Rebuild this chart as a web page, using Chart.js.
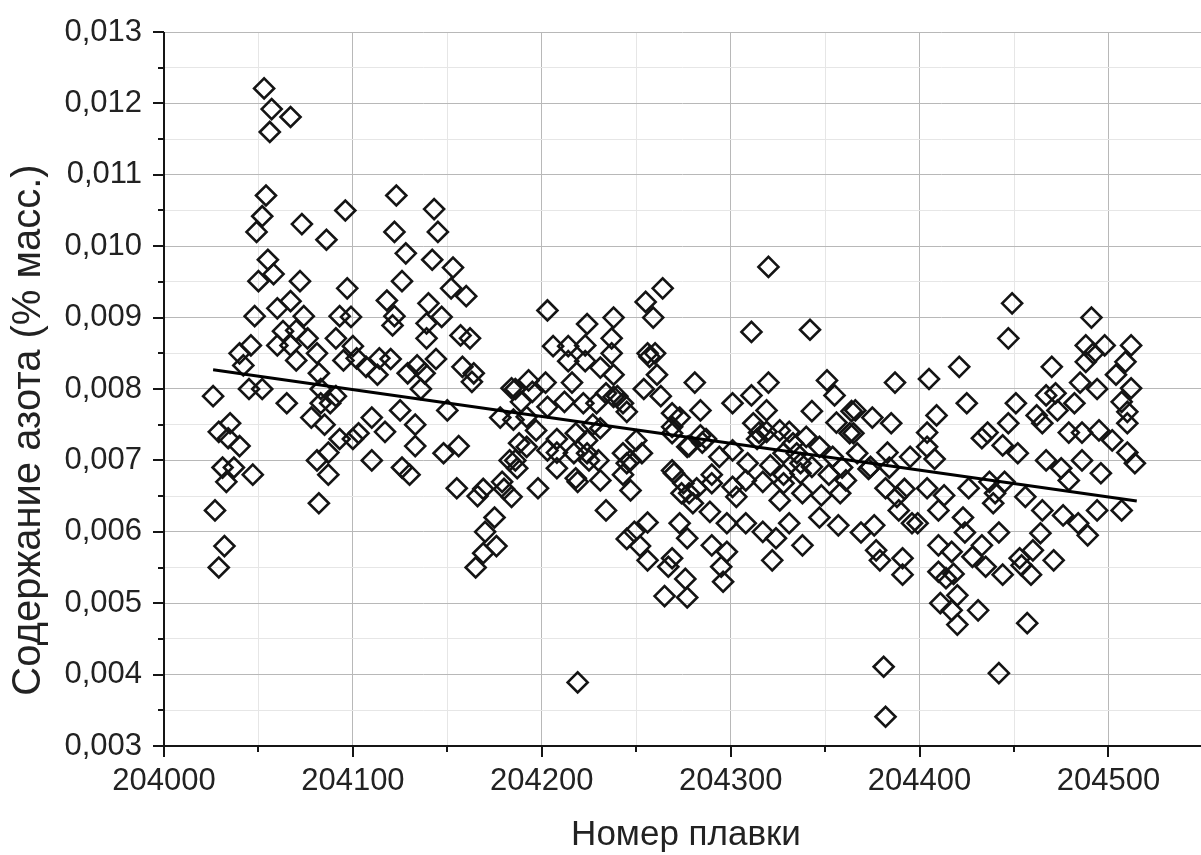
<!DOCTYPE html>
<html>
<head>
<meta charset="utf-8">
<script src="https://cdn.jsdelivr.net/npm/chart.js@4.4.1/dist/chart.umd.min.js"></script>
<style>
  body { margin: 0; background: #fff; }
  #wrap { width: 1201px; height: 855px; }
</style>
</head>
<body>
<div id="wrap"><canvas id="scatter-chart" width="1201" height="855"></canvas></div>
<script>
// heat numbers and nitrogen content (% mass)
const heatNo = [
  204026, 204027, 204029, 204029, 204031, 204033, 204032, 204035, 204034, 204037,
  204040, 204040, 204042, 204046, 204045, 204047, 204048, 204049, 204050, 204052,
  204053, 204054, 204055, 204056, 204057, 204058, 204060, 204060, 204052, 204063,
  204065, 204067, 204067, 204067, 204070, 204070, 204072, 204073, 204074, 204076,
  204078, 204081, 204082, 204083, 204081, 204082, 204086, 204083, 204085, 204087,
  204087, 204088, 204091, 204091, 204093, 204093, 204095, 204096, 204097, 204099,
  204100, 204100, 204103, 204102, 204107, 204110, 204110, 204113, 204114, 204117,
  204118, 204120, 204121, 204122, 204122, 204123, 204126, 204125, 204126, 204128,
  204129, 204130, 204133, 204133, 204134, 204136, 204138, 204139, 204139, 204140,
  204142, 204143, 204144, 204145, 204147, 204150, 204148, 204152, 204153, 204157,
  204156, 204155, 204158, 204160, 204162, 204164, 204163, 204165, 204166, 204169,
  204169, 204170, 204175, 204176, 204178, 204180, 204183, 204184, 204186, 204186,
  204187, 204192, 204193, 204195, 204197, 204198, 204202, 204203, 204203, 204206,
  204208, 204208, 204212, 204214, 204214, 204216, 204218, 204218, 204219, 204219,
  204223, 204223, 204224, 204224, 204229, 204230, 204231, 204231, 204231, 204234,
  204237, 204237, 204238, 204238, 204238, 204243, 204245, 204245, 204245, 204247,
  204249, 204250, 204252, 204253, 204254, 204255, 204256, 204256, 204256, 204259,
  204260, 204261, 204263, 204264, 204265, 204267, 204269, 204269, 204269, 204269,
  204270, 204273, 204274, 204276, 204277, 204277, 204277, 204280, 204281, 204282,
  204284, 204289, 204290, 204290, 204294, 204295, 204296, 204298, 204298, 204301,
  204301, 204301, 204303, 204308, 204308, 204309, 204311, 204311, 204312, 204315,
  204317, 204317, 204319, 204320, 204320, 204321, 204322, 204324, 204326, 204326,
  204328, 204331, 204333, 204337, 204337, 204338, 204338, 204340, 204342, 204343,
  204343, 204347, 204347, 204348, 204351, 204354, 204355, 204356, 204357, 204358,
  204361, 204363, 204364, 204365, 204366, 204367, 204369, 204374, 204375, 204376,
  204377, 204379, 204381, 204382, 204382, 204383, 204385, 204387, 204388, 204389,
  204391, 204391, 204395, 204396, 204399, 204404, 204404, 204404, 204405, 204408,
  204409, 204410, 204411, 204410, 204410, 204413, 204414, 204417, 204417, 204418,
  204420, 204420, 204421, 204423, 204424, 204425, 204426, 204428, 204431, 204433,
  204433, 204435, 204436, 204437, 204439, 204440, 204442, 204442, 204444, 204444,
  204445, 204447, 204447, 204449, 204451, 204452, 204453, 204454, 204456, 204457,
  204459, 204460, 204462, 204464, 204465, 204465, 204467, 204467, 204470, 204471,
  204472, 204473, 204475, 204476, 204479, 204479, 204482, 204484, 204485, 204486,
  204486, 204488, 204488, 204489, 204491, 204492, 204494, 204494, 204495, 204496,
  204498, 204502, 204504, 204507, 204507, 204509, 204510, 204510, 204510, 204512,
  204512, 204514,
  204179, 204184, 204189, 204185, 204192, 204188, 204203, 204222, 204234, 204240,
  204243, 204227, 204208, 204217, 204224, 204225, 204243, 204247, 204257, 204273,
  204269, 204278, 204284, 204287, 204275, 204278, 204290, 204319, 204314, 204331,
  204328, 204335, 204285, 204328, 204373, 204359, 204352, 204384, 204392
];
const nitrogen = [
  0.00790, 0.00630, 0.00550, 0.00740, 0.00690, 0.00670, 0.00580, 0.00752, 0.00731, 0.00690,
  0.00720, 0.00850, 0.00833, 0.00861, 0.00800, 0.00680, 0.00902, 0.01020, 0.00951, 0.01042,
  0.01221, 0.01071, 0.00981, 0.01160, 0.01192, 0.00961, 0.00913, 0.00861, 0.00800, 0.00881,
  0.00780, 0.01181, 0.00923, 0.00861, 0.00882, 0.00840, 0.00951, 0.01031, 0.00902, 0.00871,
  0.00760, 0.00850, 0.00822, 0.00780, 0.00700, 0.00640, 0.01009, 0.00800, 0.00750, 0.00680,
  0.00711, 0.00780, 0.00790, 0.00871, 0.00730, 0.00902, 0.00840, 0.01050, 0.00941, 0.00901,
  0.00860, 0.00730, 0.00738, 0.00843, 0.00831, 0.00760, 0.00700, 0.00820, 0.00843, 0.00740,
  0.00924, 0.00842, 0.00889, 0.00902, 0.01020, 0.01071, 0.00951, 0.00770, 0.00690, 0.00990,
  0.00822, 0.00680, 0.00750, 0.00720, 0.00833, 0.00800, 0.00822, 0.00892, 0.00871, 0.00920,
  0.00981, 0.01052, 0.00842, 0.01020, 0.00901, 0.00770, 0.00710, 0.00941, 0.00970, 0.00875,
  0.00720, 0.00661, 0.00831, 0.00930, 0.00871, 0.00822, 0.00810, 0.00550, 0.00650, 0.00570,
  0.00660, 0.00600, 0.00620, 0.00580, 0.00760, 0.00660, 0.00700, 0.00801, 0.00800, 0.00700,
  0.00689, 0.00719, 0.00812, 0.00796, 0.00742, 0.00661, 0.00809, 0.00775, 0.00910, 0.00860,
  0.00711, 0.00689, 0.00782, 0.00860, 0.00839, 0.00809, 0.00738, 0.00675, 0.00670, 0.00389,
  0.00861, 0.00839, 0.00891, 0.00728, 0.00780, 0.00700, 0.00830, 0.00745, 0.00672, 0.00630,
  0.00871, 0.00850, 0.00820, 0.00789, 0.00900, 0.00680, 0.00768, 0.00696, 0.00590, 0.00658,
  0.00600, 0.00728, 0.00580, 0.00710, 0.00800, 0.00922, 0.00850, 0.00613, 0.00560, 0.00900,
  0.00850, 0.00820, 0.00790, 0.00941, 0.00510, 0.00551, 0.00766, 0.00747, 0.00686, 0.00563,
  0.00682, 0.00612, 0.00654, 0.00534, 0.00719, 0.00591, 0.00508, 0.00640, 0.00809, 0.00661,
  0.00770, 0.00628, 0.00680, 0.00581, 0.00705, 0.00551, 0.00530, 0.00612, 0.00572, 0.00780,
  0.00714, 0.00663, 0.00649, 0.00672, 0.00612, 0.00696, 0.00791, 0.00880, 0.00752, 0.00739,
  0.00670, 0.00600, 0.00770, 0.00809, 0.00971, 0.00693, 0.00560, 0.00591, 0.00742, 0.00644,
  0.00680, 0.00612, 0.00724, 0.00696, 0.00682, 0.00654, 0.00581, 0.00733, 0.00883, 0.00769,
  0.00691, 0.00719, 0.00620, 0.00651, 0.00812, 0.00705, 0.00791, 0.00753, 0.00609, 0.00654,
  0.00672, 0.00738, 0.00769, 0.00738, 0.00770, 0.00710, 0.00599, 0.00691, 0.00760, 0.00609,
  0.00574, 0.00560, 0.00411, 0.00341, 0.00661, 0.00711, 0.00752, 0.00809, 0.00649, 0.00630,
  0.00563, 0.00540, 0.00705, 0.00612, 0.00612, 0.00661, 0.00739, 0.00719, 0.00814, 0.00702,
  0.00763, 0.00630, 0.00500, 0.00581, 0.00544, 0.00651, 0.00535, 0.00490, 0.00572, 0.00541,
  0.00470, 0.00511, 0.00831, 0.00620, 0.00599, 0.00780, 0.00661, 0.00565, 0.00490, 0.00581,
  0.00731, 0.00551, 0.00739, 0.00670, 0.00640, 0.00654, 0.00402, 0.00599, 0.00721, 0.00540,
  0.00670, 0.00752, 0.00871, 0.00920, 0.00780, 0.00710, 0.00563, 0.00553, 0.00649, 0.00472,
  0.00540, 0.00574, 0.00763, 0.00598, 0.00630, 0.00752, 0.00791, 0.00700, 0.00831, 0.00560,
  0.00794, 0.00770, 0.00689, 0.00623, 0.00739, 0.00672, 0.00780, 0.00612, 0.00809, 0.00739,
  0.00700, 0.00838, 0.00861, 0.00595, 0.00900, 0.00850, 0.00630, 0.00800, 0.00742, 0.00682,
  0.00861, 0.00728, 0.00820, 0.00782, 0.00630, 0.00838, 0.00768, 0.00752, 0.00711, 0.00861,
  0.00801, 0.00696,
  0.00670, 0.00649, 0.00782, 0.00757, 0.00761, 0.00724, 0.00714, 0.00780, 0.00794, 0.00790,
  0.00780, 0.00750, 0.00730, 0.00710, 0.00710, 0.00700, 0.00710, 0.00700, 0.00845, 0.00760,
  0.00738, 0.00720, 0.00735, 0.00730, 0.00668, 0.00654, 0.00668, 0.00740, 0.00730, 0.00740,
  0.00710, 0.00710, 0.00725, 0.00668, 0.00688, 0.00690, 0.00680, 0.00690, 0.00660
];

// linear trend, end points
const trendX = [204026, 204515];
const trendY = [0.00827, 0.00643];

const xTicks = [204000, 204050, 204100, 204150, 204200, 204250, 204300, 204350, 204400, 204450, 204500];
const yTicks = [0.003, 0.0035, 0.004, 0.0045, 0.005, 0.0055, 0.006, 0.0065, 0.007, 0.0075,
                0.008, 0.0085, 0.009, 0.0095, 0.010, 0.0105, 0.011, 0.0115, 0.012, 0.0125, 0.013];

const xTitle = 'Номер плавки';
const yTitle = 'Содержание азота (% масс.)';

const FONT = '"Liberation Sans", Arial, sans-serif';
const isMajorX = v => v % 100 === 0;
const isMajorY = v => Math.round(v * 10000) % 10 === 0;

const points = heatNo.map((x, i) => ({ x: x, y: nitrogen[i] }));
const trend = trendX.map((x, i) => ({ x: x, y: trendY[i] }));

// axis lines, outward tick marks and axis titles
const axisFrame = {
  id: 'axisFrame',
  afterDraw(chart) {
    const { ctx, chartArea: a, scales: { x, y } } = chart;
    ctx.save();
    ctx.strokeStyle = '#151515';
    ctx.lineWidth = 2;
    ctx.beginPath();
    ctx.moveTo(a.left, a.top);
    ctx.lineTo(a.left, a.bottom);
    ctx.lineTo(a.right, a.bottom);
    ctx.stroke();

    ctx.beginPath();
    xTicks.forEach(v => {
      const px = Math.round(x.getPixelForValue(v));
      ctx.moveTo(px, a.bottom);
      ctx.lineTo(px, a.bottom + (isMajorX(v) ? 11 : 6));
    });
    yTicks.forEach(v => {
      const py = Math.round(y.getPixelForValue(v));
      ctx.moveTo(a.left, py);
      ctx.lineTo(a.left - (isMajorY(v) ? 11 : 6), py);
    });
    ctx.stroke();

    ctx.fillStyle = '#222';
    ctx.textAlign = 'center';
    ctx.textBaseline = 'middle';
    ctx.font = '35px ' + FONT;
    ctx.fillText(xTitle, 686, 835);
    ctx.font = '40px ' + FONT;
    ctx.translate(29, 430);
    ctx.rotate(-Math.PI / 2);
    ctx.fillText(yTitle, 0, 0);
    ctx.restore();
  }
};

new Chart(document.getElementById('scatter-chart'), {
  type: 'scatter',
  data: {
    datasets: [{
      type: 'line',
      data: trend,
      borderColor: '#000',
      borderWidth: 3,
      pointRadius: 0,
      fill: false,
      order: 0
    }, {
      data: points,
      pointStyle: 'rectRot',
      pointRadius: 10,
      pointBorderWidth: 2.6,
      borderColor: '#141414',
      backgroundColor: 'rgba(0,0,0,0)',
      order: 1
    }]
  },
  options: {
    responsive: false,
    animation: false,
    events: [],
    layout: { autoPadding: false, padding: { top: 32, right: 0, bottom: 0, left: 0 } },
    plugins: {
      legend: { display: false },
      tooltip: { enabled: false }
    },
    scales: {
      x: {
        type: 'linear',
        min: 204000,
        max: 204549,
        afterBuildTicks: s => { s.ticks = xTicks.map(v => ({ value: v })); },
        afterFit: s => { s.height = 109; s.paddingLeft = 0; s.paddingRight = 0; },
        border: { display: false },
        grid: {
          drawTicks: false,
          color: c => isMajorX(c.tick.value) ? '#b8b8b8' : '#e6e6e6',
          lineWidth: 1
        },
        ticks: {
          autoSkip: false,
          maxRotation: 0,
          padding: 17,
          color: '#222',
          font: { family: FONT, size: 31 },
          callback: v => isMajorX(v) ? String(v) : ''
        }
      },
      y: {
        min: 0.003,
        max: 0.013,
        afterBuildTicks: s => { s.ticks = yTicks.map(v => ({ value: v })); },
        afterFit: s => { s.width = 164; s.paddingTop = 0; s.paddingBottom = 0; },
        border: { display: false },
        grid: {
          drawTicks: false,
          color: c => isMajorY(c.tick.value) ? '#b8b8b8' : '#e6e6e6',
          lineWidth: 1
        },
        ticks: {
          autoSkip: false,
          padding: 22,
          color: '#222',
          font: { family: FONT, size: 31 },
          callback: v => isMajorY(v) ? v.toFixed(3).replace('.', ',') : ''
        }
      }
    }
  },
  plugins: [axisFrame]
});
</script>
</body>
</html>
